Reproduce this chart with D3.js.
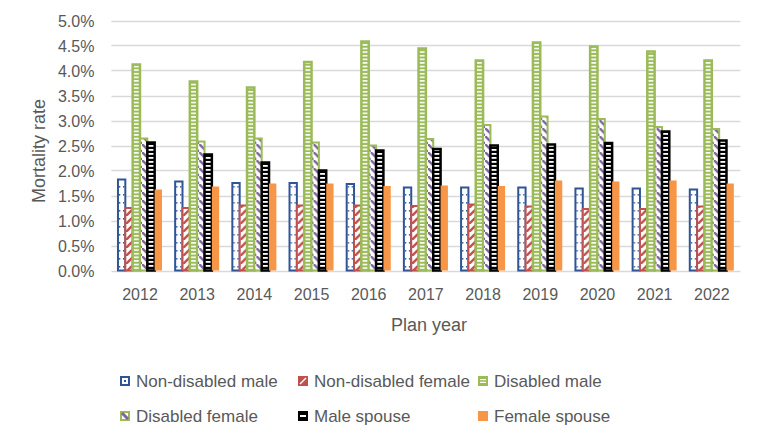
<!DOCTYPE html>
<html><head><meta charset="utf-8">
<script src="https://cdn.jsdelivr.net/npm/d3@7"></script>
<style>body{margin:0;background:#fff}svg{display:block}text{font-family:"Liberation Sans",Arial,sans-serif;fill:#595959}</style>
</head><body><svg id="c" width="763" height="444"></svg>
<script>
const years = ["2012","2013","2014","2015","2016","2017","2018","2019","2020","2021","2022"];
const seriesNames = ["Non-disabled male","Non-disabled female","Disabled male","Disabled female","Male spouse","Female spouse"];
const nonDisabledMale   = [1.82,1.78,1.75,1.75,1.73,1.66,1.66,1.66,1.64,1.64,1.62];
const nonDisabledFemale = [1.25,1.25,1.30,1.30,1.30,1.29,1.32,1.28,1.23,1.23,1.28];
const disabledMale      = [4.12,3.78,3.66,4.17,4.58,4.44,4.20,4.56,4.48,4.38,4.20];
const disabledFemale    = [2.64,2.58,2.64,2.56,2.50,2.63,2.91,3.08,3.03,2.87,2.83];
const maleSpouse        = [2.56,2.32,2.16,2.00,2.40,2.43,2.50,2.52,2.55,2.78,2.60];
const femaleSpouse      = [1.62,1.68,1.74,1.74,1.69,1.70,1.69,1.80,1.78,1.80,1.74];
const yTicks = [0,0.5,1,1.5,2,2.5,3,3.5,4,4.5,5];
const seriesValues = [nonDisabledMale,nonDisabledFemale,disabledMale,disabledFemale,maleSpouse,femaleSpouse];

const svg = d3.select("#c");
const defs = svg.append("defs");
const L = 111.4, R = 740.4, T = 20.5, B = 270.5;

function pat(id,w,h){return defs.append("pattern").attr("id",id).attr("patternUnits","userSpaceOnUse").attr("width",w).attr("height",h);}
let p = pat("pNDM",4,8);
p.append("rect").attr("width",4).attr("height",8).attr("fill","#fff");
p.append("rect").attr("x",1).attr("y",2).attr("width",1.3).attr("height",1.6).attr("fill","#2F5597");
p = pat("pNDF",8,8);
p.append("rect").attr("width",8).attr("height",8).attr("fill","#fff");
p.append("path").attr("d","M-1,9 L9,-1").attr("stroke","#C0504D").attr("stroke-width",2.4);
p = pat("pDM",4,3.6);
p.append("rect").attr("width",4).attr("height",3.6).attr("fill","#9BBB59");
p.append("rect").attr("y",0.9).attr("width",4).attr("height",1.6).attr("fill","#fff");
p = pat("pDF",8,8);
p.append("rect").attr("width",8).attr("height",8).attr("fill","#fff");
p.append("path").attr("d","M-1,-1 L9,9").attr("stroke","#8064A2").attr("stroke-width",2.4);
p = pat("pMS",4,4);
p.append("rect").attr("width",4).attr("height",4).attr("fill","#000");
p.append("rect").attr("y",1).attr("width",4).attr("height",1.8).attr("fill","#fff");

const styles = [
  {fill:"url(#pNDM)",stroke:"#2F5597",sw:2},
  {fill:"url(#pNDF)",stroke:"#C0504D",sw:2},
  {fill:"url(#pDM)",stroke:"#9BBB59",sw:2.5},
  {fill:"url(#pDF)",stroke:"#9BBB59",sw:2},
  {fill:"url(#pMS)",stroke:"#000",sw:2.5},
  {fill:"#F79646",stroke:"none",sw:0}
];

const y = d3.scaleLinear().domain([0,5]).range([B,T]);
const x0 = d3.scaleBand().domain(years).range([L,R]).paddingInner(0.23).paddingOuter(0.115);
const x1 = d3.scaleBand().domain(d3.range(6)).range([0,x0.bandwidth()]);

svg.append("g").selectAll("line").data(yTicks).join("line")
  .attr("x1",L).attr("x2",R).attr("y1",d=>Math.round(y(d))+0.5).attr("y2",d=>Math.round(y(d))+0.5)
  .attr("stroke","#D9D9D9").attr("stroke-width",1.5);

const yAxis = d3.axisLeft(y).tickValues(yTicks).tickFormat(d=>d.toFixed(1)+"%").tickSize(0).tickPadding(0);
const ya = svg.append("g").attr("transform",`translate(${L-17},1)`).call(yAxis);
ya.select(".domain").remove();
ya.selectAll("text").style("font-size","16px").attr("fill","#595959").style("font-family","Liberation Sans, Arial");

years.forEach((yr,i)=>{
  const g = svg.append("g").attr("transform",`translate(${x0(yr)},0)`);
  seriesValues.forEach((vals,s)=>{
    const st = styles[s];
    g.append("rect").attr("x",x1(s)).attr("width",x1.bandwidth())
      .attr("y",y(vals[i])).attr("height",B-y(vals[i]))
      .attr("fill",st.fill).attr("stroke",st.stroke).attr("stroke-width",st.sw);
  });
});

const xAxis = d3.axisBottom(x0).tickSize(0).tickPadding(0);
const xa = svg.append("g").attr("transform",`translate(0,${B})`).call(xAxis);
xa.select(".domain").remove();
xa.selectAll("text").style("font-size","16px").attr("fill","#595959").style("font-family","Liberation Sans, Arial").attr("dy","0.35em").attr("y",24);

svg.append("text").attr("x",429).attr("y",325).attr("dy","0.35em").attr("text-anchor","middle").style("font-size","18px").text("Plan year");
svg.append("text").attr("transform","translate(45,151) rotate(-90)").attr("text-anchor","middle").style("font-size","18px").text("Mortality rate");

// legend markers (10x10 swatches)
const legPos = [[120,381],[298,381],[478,381],[120,416],[298,416],[478,416]];
function swatch(g,s){
  const sq = (x,y,w,h,f)=>g.append("rect").attr("x",x).attr("y",y).attr("width",w).attr("height",h).attr("fill",f);
  if(s===0){ sq(0,0,10,10,"#2F5597"); sq(2,2,6,6,"#fff"); sq(4,4,2,2,"#2F5597"); }
  if(s===1){ sq(0,0,10,10,"#C0504D"); g.append("path").attr("d","M2,8 L8,2").attr("stroke","#fff").attr("stroke-width",1.5); }
  if(s===2){ sq(0,0,10,10,"#9BBB59"); sq(2,3,6,1.2,"#fff"); sq(2,5.8,6,1.2,"#fff"); }
  if(s===3){ sq(0,0,10,10,"#9BBB59"); sq(2,2,6,6,"#fff"); g.append("path").attr("d","M2,2 L8,2 L8,8 Z").attr("fill","#fff");
             g.append("path").attr("d","M2,2 L8,8").attr("stroke","#8064A2").attr("stroke-width",3); }
  if(s===4){ sq(0,0,10,10,"#000"); sq(2,4,6,2,"#fff"); }
  if(s===5){ sq(0,0,10,10,"#F79646"); }
}
seriesNames.forEach((n,s)=>{
  const [lx,ly] = legPos[s];
  const g = svg.append("g").attr("transform",`translate(${lx},${ly-5})`);
  swatch(g,s);
  svg.append("text").attr("x",lx+16).attr("y",ly).attr("dy","0.35em").style("font-size","17px").text(n);
});
</script></body></html>
